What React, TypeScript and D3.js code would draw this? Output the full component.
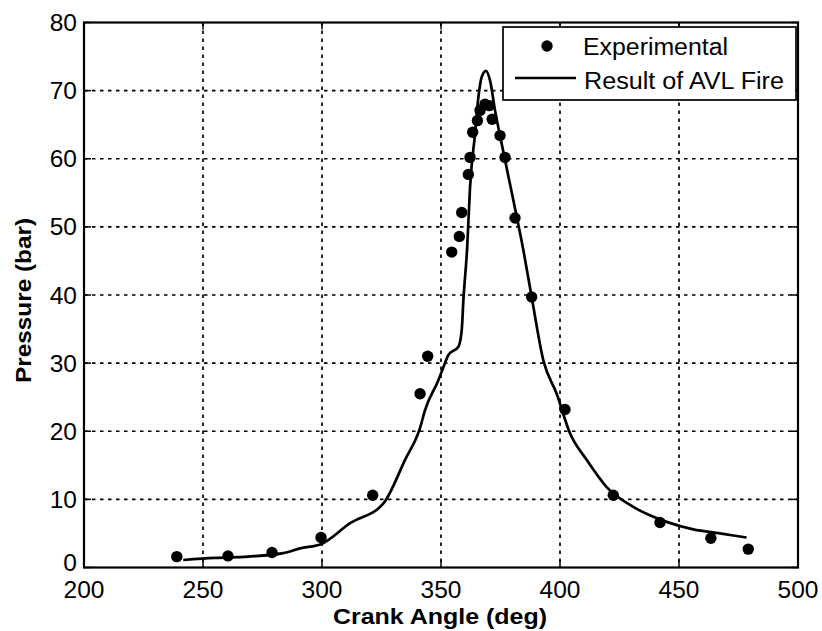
import React from "react";
import * as d3 from "d3";

const expAngle = [239, 260.5, 279, 299.6, 321.3, 341.2, 344.4, 354.5, 357.7, 358.7, 361.5, 362.2, 363.3, 365.3, 366.4, 368.5, 370.3, 371.5, 374.8, 376.9, 381.1, 388.1, 402.1, 422.4, 442.0, 463.4, 479.1];
const expPressure = [1.6, 1.7, 2.2, 4.4, 10.6, 25.5, 31.0, 46.3, 48.6, 52.1, 57.7, 60.2, 63.9, 65.6, 67.1, 68.0, 67.8, 65.8, 63.4, 60.2, 51.3, 39.7, 23.2, 10.6, 6.6, 4.3, 2.7];

const simAngle = [241.7, 255, 269, 283.7, 290.8, 300, 311.8, 325.8, 334.9, 341.2, 343.3, 348.9, 351, 353.1, 357.3, 358.7, 359.4, 361.0, 362.2, 364.3, 365.7, 367.1, 368.9, 370.6, 372.7, 375.5, 380.4, 384.6, 388.1, 393, 398.6, 404.2, 411.2, 419.6, 430.8, 444.8, 456, 467.2, 478.4];
const simPressure = [1.1, 1.4, 1.6, 2.1, 2.8, 3.5, 6.5, 9.4, 15.8, 20.5, 23.1, 27.5, 29.4, 31.2, 32.4, 34.8, 39.2, 47.0, 55.8, 63.7, 69.0, 72.0, 72.9, 71.5, 67.1, 62.2, 53.9, 46.6, 39.7, 30.4, 25.5, 19.7, 15.8, 11.8, 8.9, 6.7, 5.6, 5.0, 4.4];

const xTicks = [200, 250, 300, 350, 400, 450, 500];
const yTicks = [0, 10, 20, 30, 40, 50, 60, 70, 80];
const legendLabels = ["Experimental", "Result of AVL Fire"];
const xLabel = "Crank Angle (deg)";
const yLabel = "Pressure (bar)";

export default function App() {
  const W = 822, H = 631;
  const left = 84, right = 798, top = 22.5, bottom = 567.5;
  const x = d3.scaleLinear().domain([200, 500]).range([left, right]);
  const y = d3.scaleLinear().domain([0, 80]).range([bottom, top]);
  const line = d3
    .line<number>()
    .x((_, i) => x(simAngle[i]))
    .y((d) => y(d))
    .curve(d3.curveMonotoneX);
  const font = "'Liberation Sans', Arial, Helvetica, sans-serif";
  const tickLen = 7;
  return (
    <div style={{ position: "absolute", left: 0, top: 0 }}>
      <svg width={W} height={H} style={{ display: "block", background: "#fff" }}>
        <rect x={0} y={0} width={W} height={H} fill="#fff" />
        {/* grid */}
        {xTicks.slice(1, -1).map((t) => (
          <line key={"gx" + t} x1={x(t)} x2={x(t)} y1={top} y2={bottom} stroke="#000" strokeWidth={1.7} strokeDasharray="3.5,4.5" />
        ))}
        {yTicks.slice(1, -1).map((t) => (
          <line key={"gy" + t} x1={left} x2={right} y1={y(t)} y2={y(t)} stroke="#000" strokeWidth={1.7} strokeDasharray="3.5,4.5" />
        ))}
        {/* ticks */}
        {xTicks.map((t) => (
          <g key={"tx" + t}>
            <line x1={x(t)} x2={x(t)} y1={bottom} y2={bottom - tickLen} stroke="#000" strokeWidth={1.5} />
            <line x1={x(t)} x2={x(t)} y1={top} y2={top + tickLen} stroke="#000" strokeWidth={1.5} />
            <text x={x(t)} y={bottom + 30} textAnchor="middle" fontFamily={font} fontSize={24.5} fill="#000">{t}</text>
          </g>
        ))}
        {yTicks.map((t) => (
          <g key={"ty" + t}>
            <line x1={left} x2={left + tickLen} y1={y(t)} y2={y(t)} stroke="#000" strokeWidth={1.5} />
            <line x1={right} x2={right - tickLen} y1={y(t)} y2={y(t)} stroke="#000" strokeWidth={1.5} />
            <text x={77} y={y(t) + (t === 0 ? 3 : 8.5)} textAnchor="end" fontFamily={font} fontSize={24.5} fill="#000">{t}</text>
          </g>
        ))}
        {/* frame */}
        <rect x={left} y={top} width={right - left} height={bottom - top} fill="none" stroke="#000" strokeWidth={2.2} />
        {/* simulation line */}
        <path d={line(simPressure) || ""} fill="none" stroke="#000" strokeWidth={2.7} strokeLinejoin="round" />
        {/* experimental points */}
        {expPressure.map((p, i) => (
          <circle key={"p" + i} cx={x(expAngle[i])} cy={y(p)} r={5.7} fill="#000" />
        ))}
        {/* legend */}
        <rect x={503} y={27} width={293} height={73} fill="#fff" stroke="#000" strokeWidth={1.7} />
        <circle cx={547} cy={46} r={5.7} fill="#000" />
        <line x1={515} x2={576} y1={78} y2={78} stroke="#000" strokeWidth={2.7} />
        <text x={583} y={55} fontFamily={font} fontSize={23} textLength={145} lengthAdjust="spacingAndGlyphs" fill="#000">{legendLabels[0]}</text>
        <text x={584} y={89} fontFamily={font} fontSize={23} textLength={200} lengthAdjust="spacingAndGlyphs" fill="#000">{legendLabels[1]}</text>
        {/* axis labels */}
        <text x={333} y={624} fontFamily={font} fontSize={21.5} fontWeight="bold" textLength={214} lengthAdjust="spacingAndGlyphs" fill="#000">{xLabel}</text>
        <text transform={`translate(31,${383}) rotate(-90)`} fontFamily={font} fontSize={21.5} fontWeight="bold" textLength={165} lengthAdjust="spacingAndGlyphs" fill="#000">{yLabel}</text>
      </svg>
    </div>
  );
}
